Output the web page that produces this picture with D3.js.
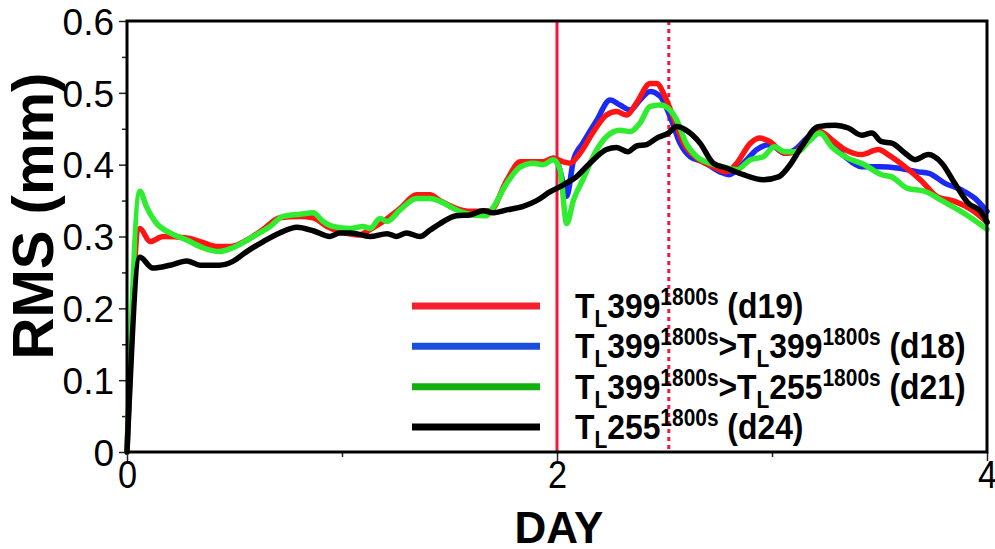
<!DOCTYPE html>
<html>
<head>
<meta charset="utf-8">
<script src="https://cdn.jsdelivr.net/npm/d3@7/dist/d3.min.js"></script>
<style>
  html, body { margin: 0; padding: 0; background: #fff; }
  svg { display: block; font-family: "Liberation Sans", Arial, sans-serif; }
</style>
</head>
<body>
<svg id="chart" width="995" height="549"></svg>
<script>
// RMS error (mm) against forecast day, one [day, rms] list per experiment
const d19 = [[0,0],[0.06,0.311],[0.107,0.293],[0.168,0.300],[0.278,0.298],[0.34,0.293],[0.417,0.286],[0.48,0.286],[0.557,0.295],[0.634,0.31],[0.71,0.326],[0.805,0.328],[0.866,0.326],[0.93,0.314],[0.99,0.307],[1.08,0.302],[1.115,0.307],[1.177,0.318],[1.27,0.339],[1.347,0.358],[1.41,0.358],[1.456,0.35],[1.533,0.339],[1.595,0.335],[1.69,0.336],[1.766,0.378],[1.83,0.404],[1.89,0.404],[1.936,0.404],[1.983,0.409],[2.03,0.404],[2.06,0.402],[2.107,0.416],[2.17,0.446],[2.23,0.469],[2.277,0.474],[2.324,0.469],[2.37,0.486],[2.433,0.513],[2.464,0.513],[2.502,0.495],[2.54,0.467],[2.588,0.43],[2.65,0.409],[2.727,0.397],[2.79,0.39],[2.836,0.402],[2.9,0.43],[2.944,0.437],[2.99,0.432],[3.06,0.416],[3.107,0.418],[3.153,0.43],[3.223,0.446],[3.277,0.435],[3.34,0.421],[3.417,0.414],[3.495,0.421],[3.54,0.414],[3.619,0.397],[3.697,0.377],[3.77,0.355],[3.85,0.349],[3.93,0.337],[4.0,0.32]];

const d18 = [[1.95,0.404],[1.983,0.409],[2.0,0.405],[2.02,0.385],[2.045,0.356],[2.077,0.407],[2.12,0.43],[2.185,0.462],[2.247,0.49],[2.293,0.483],[2.34,0.476],[2.386,0.49],[2.433,0.502],[2.48,0.495],[2.526,0.467],[2.572,0.43],[2.62,0.411],[2.68,0.404],[2.758,0.39],[2.8,0.386],[2.867,0.402],[2.93,0.421],[2.99,0.428],[3.06,0.416],[3.107,0.421],[3.17,0.439],[3.215,0.446],[3.277,0.43],[3.34,0.411],[3.417,0.397],[3.5,0.397],[3.59,0.395],[3.68,0.39],[3.73,0.388],[3.805,0.374],[3.88,0.365],[3.944,0.353],[4.0,0.335]];

const d21 = [[0,0],[0.06,0.363],[0.09,0.342],[0.138,0.318],[0.2,0.305],[0.278,0.295],[0.355,0.284],[0.43,0.279],[0.49,0.284],[0.587,0.30],[0.665,0.314],[0.726,0.328],[0.805,0.331],[0.866,0.333],[0.912,0.321],[0.958,0.314],[1.037,0.311],[1.1,0.314],[1.13,0.311],[1.177,0.325],[1.21,0.321],[1.27,0.337],[1.347,0.353],[1.41,0.353],[1.456,0.349],[1.533,0.337],[1.61,0.330],[1.67,0.329],[1.70,0.339],[1.766,0.374],[1.83,0.397],[1.89,0.402],[1.936,0.40],[1.983,0.407],[2.014,0.393],[2.045,0.318],[2.077,0.351],[2.12,0.379],[2.185,0.421],[2.23,0.439],[2.293,0.448],[2.34,0.446],[2.386,0.458],[2.433,0.481],[2.48,0.483],[2.526,0.476],[2.557,0.462],[2.60,0.43],[2.65,0.411],[2.71,0.402],[2.77,0.397],[2.836,0.393],[2.9,0.407],[2.96,0.411],[3.01,0.425],[3.06,0.418],[3.12,0.418],[3.17,0.432],[3.223,0.444],[3.277,0.425],[3.34,0.411],[3.43,0.40],[3.51,0.386],[3.557,0.383],[3.63,0.367],[3.71,0.363],[3.79,0.35],[3.867,0.337],[3.93,0.325],[4.0,0.31]];

const d24 = [[0,0],[0.06,0.271],[0.12,0.256],[0.2,0.26],[0.278,0.266],[0.34,0.26],[0.43,0.26],[0.49,0.265],[0.557,0.279],[0.634,0.293],[0.71,0.305],[0.79,0.313],[0.866,0.308],[0.944,0.30],[0.99,0.305],[1.04,0.305],[1.13,0.300],[1.21,0.304],[1.254,0.300],[1.3,0.305],[1.363,0.30],[1.41,0.309],[1.456,0.318],[1.533,0.329],[1.595,0.330],[1.657,0.336],[1.70,0.333],[1.766,0.337],[1.843,0.342],[1.905,0.35],[1.967,0.362],[2.03,0.372],[2.09,0.383],[2.153,0.402],[2.23,0.421],[2.277,0.424],[2.33,0.418],[2.37,0.426],[2.417,0.428],[2.464,0.437],[2.518,0.444],[2.557,0.453],[2.6,0.448],[2.665,0.43],[2.727,0.402],[2.79,0.395],[2.867,0.386],[2.96,0.379],[3.03,0.383],[3.077,0.397],[3.138,0.425],[3.215,0.453],[3.293,0.455],[3.355,0.451],[3.417,0.441],[3.464,0.444],[3.51,0.432],[3.557,0.43],[3.619,0.416],[3.665,0.407],[3.727,0.414],[3.79,0.402],[3.85,0.374],[3.914,0.346],[3.97,0.335],[4.0,0.32]];

// Axis ticks
const xMajorTicks = [0, 2, 4];
const xMinorTicks = [1, 3];
const yMajorTicks = [0, 0.1, 0.2, 0.3, 0.4, 0.5, 0.6];
const yMinorTicks = [0.05, 0.15, 0.25, 0.35, 0.45, 0.55];

// Markers: end of the first stage (solid) and a later reference time (dotted)
const stageDay = 2;
const refDay = 2.52;

// Legend entries: runs of [text, role] where role is "sub", "sup" or plain
const legendLabels = [
  [["T"], ["L", "sub"], ["399"], ["1800s", "sup"], [" (d19)"]],
  [["T"], ["L", "sub"], ["399"], ["1800s", "sup"], [">T"], ["L", "sub"], ["399"], ["1800s", "sup"], [" (d18)"]],
  [["T"], ["L", "sub"], ["399"], ["1800s", "sup"], [">T"], ["L", "sub"], ["255"], ["1800s", "sup"], [" (d21)"]],
  [["T"], ["L", "sub"], ["255"], ["1800s", "sup"], [" (d24)"]]
];

const seriesDefs = [
  { data: d18, color: "#1a2af2", legendColor: "#1a4fdc" },
  { data: d19, color: "#ff1414", legendColor: "#f5202e" },
  { data: d21, color: "#30ec30", legendColor: "#10b010" },
  { data: d24, color: "#000000", legendColor: "#000000" }
];
const legendOrder = [1, 0, 2, 3];

const svg = d3.select("#chart");
const margin = { left: 127, right: 8, top: 21, bottom: 97 };
const W = 995, H = 549;
const x = d3.scaleLinear().domain([0, 4]).range([margin.left, W - margin.right]);
const y = d3.scaleLinear().domain([0, 0.6]).range([H - margin.bottom, margin.top]);

// Axes: major ticks with labels, minor ticks without
const yAxis = d3.axisLeft(y).tickValues(yMajorTicks).tickFormat(d3.format("")).tickSize(8).tickPadding(5);
const yAxisMinor = d3.axisLeft(y).tickValues(yMinorTicks).tickFormat("").tickSize(5);
const xAxis = d3.axisBottom(x).tickValues(xMajorTicks).tickFormat(d3.format("d")).tickSize(9);
const xAxisMinor = d3.axisBottom(x).tickValues(xMinorTicks).tickFormat("").tickSize(5);

function styleAxis(g) {
  g.select(".domain").remove();
  g.selectAll(".tick line").attr("stroke", "#222").attr("stroke-width", 1.5);
  g.selectAll("text").attr("fill", "#000").attr("font-family", "Liberation Sans, Arial, sans-serif");
}

svg.append("g").attr("transform", `translate(${margin.left},0)`).call(yAxis).call(styleAxis)
  .selectAll("text").attr("font-size", 37).attr("dy", "0.36em");
svg.append("g").attr("transform", `translate(${margin.left},0)`).call(yAxisMinor).call(styleAxis);
const xg = svg.append("g").attr("transform", `translate(0,${H - margin.bottom})`).call(xAxis).call(styleAxis);
xg.selectAll(".tick text")
  .attr("font-size", 39)
  .attr("y", 0)
  .attr("dy", 0)
  .attr("transform", "translate(0,36) scale(0.88,1)");
svg.append("g").attr("transform", `translate(0,${H - margin.bottom})`).call(xAxisMinor).call(styleAxis);

// Stage markers
svg.append("line")
  .attr("x1", x(stageDay)).attr("x2", x(stageDay))
  .attr("y1", y(0.6)).attr("y2", y(0))
  .attr("stroke", "#f2183c").attr("stroke-width", 3);
svg.append("line")
  .attr("x1", x(refDay)).attr("x2", x(refDay))
  .attr("y1", y(0.6)).attr("y2", y(0))
  .attr("stroke", "#f2183c").attr("stroke-width", 3)
  .attr("stroke-dasharray", "4,4");

// Series lines
const line = d3.line()
  .x(d => x(d[0]))
  .y(d => y(d[1]))
  .curve(d3.curveMonotoneX);

svg.append("g").selectAll("path")
  .data(seriesDefs)
  .join("path")
  .attr("d", s => line(s.data))
  .attr("fill", "none")
  .attr("stroke", s => s.color)
  .attr("stroke-width", 5.5)
  .attr("stroke-linejoin", "round")
  .attr("stroke-linecap", "round");

// Plot frame
svg.append("rect")
  .attr("x", x(0)).attr("y", y(0.6))
  .attr("width", x(4) - x(0)).attr("height", y(0) - y(0.6))
  .attr("fill", "none").attr("stroke", "#000").attr("stroke-width", 3);

// Legend
const legendRowY = d3.scaleLinear().domain([0, 3]).range([306, 427]);
const legend = svg.append("g");
legendOrder.forEach((si, i) => {
  const yy = legendRowY(i);
  legend.append("line")
    .attr("x1", 412).attr("x2", 540)
    .attr("y1", yy).attr("y2", yy)
    .attr("stroke", seriesDefs[si].legendColor).attr("stroke-width", 7);
  const t = legend.append("text")
    .attr("transform", `translate(575,${yy + 12}) scale(0.91,1)`)
    .attr("font-size", 35).attr("font-weight", "bold").attr("fill", "#000");
  let shift = 0;
  legendLabels[i].forEach(([txt, role]) => {
    let target = 0, size = 35;
    if (role === "sub") { target = 9; size = 23; }
    if (role === "sup") { target = -13; size = 23; }
    t.append("tspan")
      .attr("dy", target - shift)
      .attr("font-size", size)
      .text(txt);
    shift = target;
  });
});

// Axis titles
svg.append("text")
  .attr("transform", "translate(53,216) rotate(-90)")
  .attr("text-anchor", "middle")
  .attr("font-size", 58).attr("font-weight", "bold").attr("fill", "#000")
  .text("RMS (mm)");
svg.append("text")
  .attr("x", (x(0) + x(4)) / 2 + 2).attr("y", 543)
  .attr("text-anchor", "middle")
  .attr("font-size", 44).attr("font-weight", "bold").attr("fill", "#000")
  .text("DAY");
</script>
</body>
</html>
